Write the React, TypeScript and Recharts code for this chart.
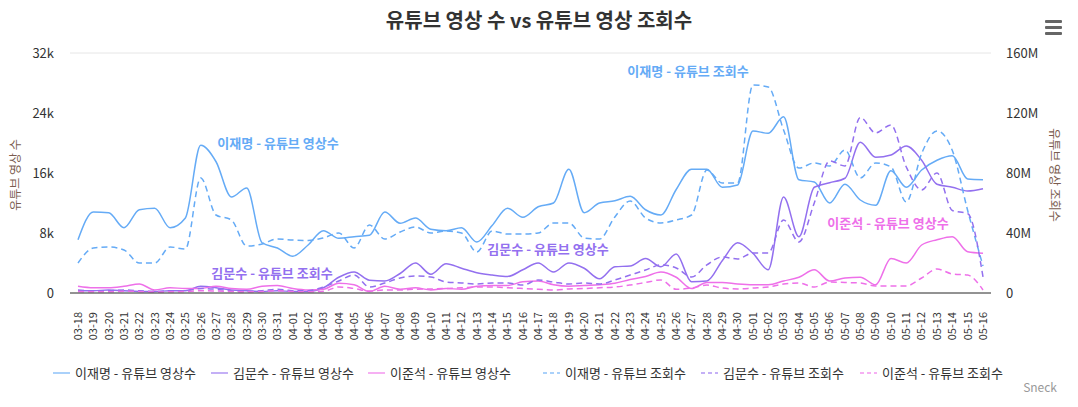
import React from "react";
import { CartesianGrid, Line, LineChart, XAxis, YAxis } from "recharts";

const dates = [
  "03-18", "03-19", "03-20", "03-21", "03-22", "03-23", "03-24", "03-25", "03-26", "03-27",
  "03-28", "03-29", "03-30", "03-31", "04-01", "04-02", "04-03", "04-04", "04-05", "04-06",
  "04-07", "04-08", "04-09", "04-10", "04-11", "04-12", "04-13", "04-14", "04-15", "04-16",
  "04-17", "04-18", "04-19", "04-20", "04-21", "04-22", "04-23", "04-24", "04-25", "04-26",
  "04-27", "04-28", "04-29", "04-30", "05-01", "05-02", "05-03", "05-04", "05-05", "05-06",
  "05-07", "05-08", "05-09", "05-10", "05-11", "05-12", "05-13", "05-14", "05-15", "05-16",
];

// 유튜브 영상 수
const leeVideos = [
  7100, 10800, 10700, 8700, 11100, 11300, 8700, 10000, 19700, 17500,
  12800, 14000, 6700, 6000, 4900, 6400, 8300, 7300, 7500, 7700,
  10800, 9300, 10000, 8500, 8300, 8700, 6800, 9000, 11300, 10100,
  11500, 12000, 16500, 10700, 12000, 12300, 12900, 11100, 10400, 13800,
  16500, 16500, 14100, 14400, 21600, 21300, 23500, 15100, 14800, 12000,
  14500, 12400, 11700, 16300, 14100, 16400, 17700, 18300, 15200, 15100,
];
const kimVideos = [
  300, 300, 400, 300, 200, 200, 300, 300, 900, 700,
  400, 300, 200, 300, 200, 200, 700, 2100, 2800, 1700,
  1600, 2600, 4000, 2500, 3900, 3300, 2700, 2400, 2200, 3100,
  4000, 2800, 4000, 3300, 1900, 3500, 3600, 4600, 3500, 5200,
  1500, 1600, 4300, 6700, 5300, 3100, 12800, 7500, 14100, 14700,
  15300, 20100, 18100, 18400, 19600, 17700, 14500, 14100, 13600, 13900,
];
const junVideos = [
  900, 700, 700, 900, 1200, 400, 700, 600, 600, 900,
  600, 500, 900, 1000, 600, 400, 500, 1300, 1100, 200,
  900, 500, 700, 400, 600, 500, 900, 1000, 1000, 1500,
  1600, 1100, 900, 1000, 1100, 1300, 1800, 2200, 2800, 2100,
  600, 1400, 1400, 1200, 1100, 1100, 1600, 2100, 3100, 1600,
  2000, 2100, 1100, 4600, 4000, 6400, 7100, 7500, 5500, 5300,
];

// 유튜브 조회수 (M)
const leeViews = [
  20, 30, 30.7, 28.7, 20, 20, 30.7, 29.3, 76.7, 52,
  48.7, 31.3, 32.7, 36, 35.3, 35, 36.7, 40, 30, 45.3,
  36, 40.7, 44, 40, 41.3, 40, 27.3, 41.3, 39.3, 39.3,
  40, 46.7, 46.7, 36.7, 36, 50.7, 61.3, 50, 46.7, 48.7,
  52, 82, 73.3, 73.3, 138.7, 137.3, 108.7, 83.3, 86.7, 84.7,
  95.3, 76.7, 86.7, 84, 60.7, 93, 108, 95, 55, 18,
];
const kimViews = [
  2, 1.5, 1.5, 2, 1.5, 1, 1.5, 1.5, 3, 2.5,
  1.5, 1, 1.5, 2.5, 1.5, 1.5, 4, 8, 12, 4,
  6.7, 10, 11.3, 10.7, 7.3, 6.7, 6, 6.7, 6.7, 5.3,
  8.7, 7.3, 6, 6.7, 6, 8.7, 12, 15.3, 18.7, 16.7,
  10.7, 18.7, 24, 22.7, 26.7, 26.7, 48.7, 34, 60, 88,
  84.7, 117, 106.7, 112, 84, 68.7, 80, 55, 53, 10.7,
];
const junViews = [
  1, 0.8, 0.8, 1.2, 1, 0.7, 0.8, 1, 1.5, 1.3,
  1, 0.8, 1, 1.5, 1, 0.8, 1.2, 4, 3, 1.3,
  2, 2, 2.5, 2.7, 3, 3.5, 4, 4, 3.5, 3,
  2.5, 2, 2.7, 3, 3.5, 4, 5.3, 7, 8.7, 2.5,
  3.3, 5.3, 3.3, 2.7, 3.3, 4, 6, 6.7, 4, 7.3,
  7, 6.7, 4.7, 4.7, 4.7, 10, 16, 12.7, 12, 2,
];

const leftTicks = [0, 8000, 16000, 24000, 32000];
const rightTicks = [0, 40, 80, 120, 160];

const BLUE = "#65abf6";
const PURPLE = "#9370ef";
const PINK = "#ee70e9";
const FONT = "'Noto Sans CJK KR', 'Noto Sans', sans-serif";

const rows = dates.map((d, i) => ({
  date: d,
  leeVideos: leeVideos[i],
  kimVideos: kimVideos[i],
  junVideos: junVideos[i],
  leeViews: leeViews[i],
  kimViews: kimViews[i],
  junViews: junViews[i],
}));

const series = [
  { key: "leeVideos", name: "이재명 - 유튜브 영상수", color: BLUE, axis: "left", dashed: false },
  { key: "kimVideos", name: "김문수 - 유튜브 영상수", color: PURPLE, axis: "left", dashed: false },
  { key: "junVideos", name: "이준석 - 유튜브 영상수", color: PINK, axis: "left", dashed: false },
  { key: "leeViews", name: "이재명 - 유튜브 조회수", color: BLUE, axis: "right", dashed: true },
  { key: "kimViews", name: "김문수 - 유튜브 조회수", color: PURPLE, axis: "right", dashed: true },
  { key: "junViews", name: "이준석 - 유튜브 조회수", color: PINK, axis: "right", dashed: true },
];

const legendLeft = [53, 211, 368, 543, 701, 860];

const annotations = [
  { text: "이재명 - 유튜브 영상수", color: BLUE, x: 278, y: 142 },
  { text: "이재명 - 유튜브 조회수", color: BLUE, x: 688, y: 70 },
  { text: "김문수 - 유튜브 영상수", color: PURPLE, x: 548, y: 248 },
  { text: "김문수 - 유튜브 조회수", color: PURPLE, x: 272, y: 272 },
  { text: "이준석 - 유튜브 영상수", color: PINK, x: 888, y: 222 },
];

function XTick({ x, payload }: any) {
  return (
    <text
      x={x}
      y={312}
      transform={`rotate(-90, ${x}, 312)`}
      textAnchor="end"
      dy="0.35em"
      fontSize={11}
      fill="#333"
      fontFamily={FONT}
    >
      {payload.value}
    </text>
  );
}

function LeftTick({ y, payload }: any) {
  const v = payload.value;
  return (
    <text x={54} y={y} dy="0.35em" textAnchor="end" fontSize={13} fill="#333" fontFamily={FONT}>
      {v === 0 ? "0" : `${v / 1000}k`}
    </text>
  );
}

function RightTick({ y, payload }: any) {
  const v = payload.value;
  return (
    <text x={1006} y={y} dy="0.35em" textAnchor="start" fontSize={13} fill="#333" fontFamily={FONT}>
      {v === 0 ? "0" : `${v}M`}
    </text>
  );
}

export default function App() {
  return (
    <div style={{ position: "absolute", left: 0, top: 0, width: 1078, height: 407, background: "#fff", fontFamily: FONT }}>
      <LineChart width={1078} height={407} data={rows} margin={{ top: 53, right: 0, bottom: 54, left: 0 }}>
        <CartesianGrid vertical={false} stroke="#e6e6e6" />
        <XAxis
          dataKey="date"
          interval={0}
          padding={{ left: 8, right: 8 }}
          height={60}
          tick={<XTick />}
          tickLine={false}
          axisLine={{ stroke: "#333", strokeWidth: 1 }}
        />
        <YAxis
          yAxisId="left"
          width={70}
          domain={[0, 32000]}
          ticks={leftTicks}
          tick={<LeftTick />}
          tickLine={false}
          axisLine={false}
        />
        <YAxis
          yAxisId="right"
          orientation="right"
          width={87}
          domain={[0, 160]}
          ticks={rightTicks}
          tick={<RightTick />}
          tickLine={false}
          axisLine={false}
        />
        {series.map((s) => (
          <Line
            key={s.key}
            yAxisId={s.axis}
            dataKey={s.key}
            name={s.name}
            type="monotone"
            stroke={s.color}
            strokeWidth={1.5}
            strokeDasharray={s.dashed ? "6 4" : undefined}
            dot={false}
            activeDot={false}
            isAnimationActive={false}
          />
        ))}
      </LineChart>

      <div style={{ position: "absolute", left: 0, top: 5, width: 1078, textAlign: "center", fontSize: 20, fontWeight: 700, color: "#333" }}>
        유튜브 영상 수 vs 유튜브 영상 조회수
      </div>

      <div style={{ position: "absolute", left: 1045, top: 20 }}>
        {[0, 1, 2].map((i) => (
          <div key={i} style={{ width: 17, height: 3, background: "#666", borderRadius: 1, marginBottom: 3 }} />
        ))}
      </div>

      <div
        style={{
          position: "absolute",
          left: 14,
          top: 175,
          transform: "translate(-50%, -50%) rotate(-90deg)",
          whiteSpace: "nowrap",
          fontSize: 12,
          color: "#7a5c4f",
        }}
      >
        유튜브 영상 수
      </div>
      <div
        style={{
          position: "absolute",
          left: 1055,
          top: 175,
          transform: "translate(-50%, -50%) rotate(90deg)",
          whiteSpace: "nowrap",
          fontSize: 12,
          color: "#7a5c4f",
        }}
      >
        유튜브 영상 조회수
      </div>

      {annotations.map((a) => (
        <div
          key={a.text}
          style={{
            position: "absolute",
            left: a.x,
            top: a.y,
            transform: "translate(-50%, -50%)",
            whiteSpace: "nowrap",
            fontSize: 13,
            fontWeight: 700,
            color: a.color,
          }}
        >
          {a.text}
        </div>
      ))}

      {series.map((s, i) => (
        <div
          key={s.key}
          style={{
            position: "absolute",
            left: legendLeft[i],
            top: 363,
            display: "flex",
            alignItems: "center",
            whiteSpace: "nowrap",
            fontSize: 13,
            color: "#333",
          }}
        >
          <svg width={17} height={4} style={{ marginRight: 5 }}>
            <line
              x1={0}
              y1={2}
              x2={17}
              y2={2}
              stroke={s.color}
              strokeOpacity={0.55}
              strokeWidth={2}
              strokeDasharray={s.dashed ? "4 3" : undefined}
            />
          </svg>
          <span>{s.name}</span>
        </div>
      ))}

      <div style={{ position: "absolute", right: 21, top: 378, fontSize: 12, color: "#999" }}>Sneck</div>
    </div>
  );
}
